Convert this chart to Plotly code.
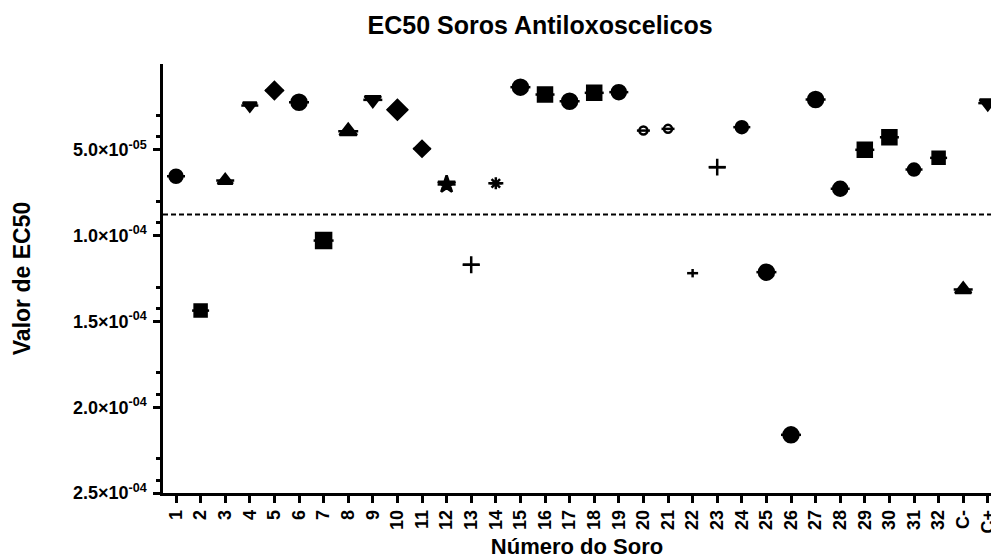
import plotly.graph_objects as go

# EC50 per serum sample (reversed linear axis, 0 at top)
categories = [str(i) for i in range(1, 33)] + ["C-", "C+"]
ec50 = [
    6.54e-5, 1.437e-4, 6.79e-5, 2.42e-5, 1.54e-5, 2.23e-5, 1.029e-4, 3.92e-5,
    2.09e-5, 2.67e-5, 4.94e-5, 7.02e-5, 1.170e-4, 6.95e-5, 1.35e-5, 1.78e-5,
    2.17e-5, 1.68e-5, 1.64e-5, 3.88e-5, 3.78e-5, 1.219e-4, 6.01e-5, 3.68e-5,
    1.213e-4, 2.161e-4, 2.07e-5, 7.27e-5, 5.00e-5, 4.27e-5, 6.15e-5, 5.47e-5,
    1.314e-4, 2.28e-5,
]
cutoff = 8.77e-5

major_ticks = [5e-5, 1e-4, 1.5e-4, 2e-4, 2.5e-4]
major_labels = ["5.0×10<sup>-05</sup>", "1.0×10<sup>-04</sup>", "1.5×10<sup>-04</sup>",
                "2.0×10<sup>-04</sup>", "2.5×10<sup>-04</sup>"]
minor_ticks = [3e-5, 4.25e-5, 8e-5, 9.25e-5, 1.3e-4, 1.425e-4, 1.8e-4, 1.925e-4,
               2.3e-4, 2.425e-4]

# marker symbol and size per sample
symbols = [
    "circle", "square", "triangle-up", "triangle-down", "diamond", "circle",
    "square", "triangle-up", "triangle-down", "diamond", "diamond", "star",
    "cross-thin-open", "asterisk-open", "circle", "square", "circle", "square",
    "circle", "circle-open", "circle-open", "line-ns-open", "cross-thin-open",
    "circle", "circle", "circle", "circle", "circle", "square", "square",
    "circle", "square", "triangle-up", "triangle-down",
]
sizes = [13, 12, 13, 12, 13, 15, 15, 15, 14, 15, 12, 13, 12, 10, 15, 14, 15, 14,
         14, 8, 8, 6, 12, 12, 15, 15, 15, 14, 14, 14, 12, 12, 14, 14]

xpos = list(range(1, len(categories) + 1))
font_family = "Liberation Sans, Arial, sans-serif"

fig = go.Figure()

fig.add_trace(go.Scatter(
    x=xpos, y=ec50, mode="markers", cliponaxis=False, showlegend=False,
    marker=dict(symbol=symbols, size=sizes, color="#000000", opacity=1,
                line=dict(color="#000000", width=2.5)),
))
# short mean bar through each point (line-ew length is 1.4x its size)
fig.add_trace(go.Scatter(
    x=xpos, y=ec50, mode="markers", cliponaxis=False, showlegend=False,
    marker=dict(symbol="line-ew-open", size=[(s + 5) / 1.4 for s in sizes],
                color="#000000", opacity=1, line=dict(color="#000000", width=2.5)),
))

fig.add_shape(type="line", xref="paper", x0=0, x1=1, yref="y", y0=cutoff, y1=cutoff,
              line=dict(color="black", width=2, dash="5px,3px"))

fig.update_layout(
    template="none",
    width=991, height=559,
    margin=dict(l=163, r=0, t=64, b=66),
    paper_bgcolor="white", plot_bgcolor="white",
    font=dict(family=font_family, color="black", size=16),
    title=dict(text="EC50 Soros Antiloxoscelicos", x=0.545, xanchor="center",
               y=0.955, yanchor="middle",
               font=dict(size=25, weight="bold", family=font_family)),
    xaxis=dict(
        range=[0.471, 34.13], tickmode="array", tickvals=xpos, ticktext=categories,
        tickangle=-90, ticks="outside", ticklen=7, tickwidth=2.5, tickcolor="black",
        showline=True, linewidth=2.5, linecolor="black", showgrid=False,
        zeroline=False, tickfont=dict(size=18, weight="bold"),
        ticklabeloverflow="allow",
        title=dict(text="Número do Soro", font=dict(size=22, weight="bold"), standoff=10),
    ),
    yaxis=dict(
        range=[2.5e-4, 0], tickmode="array", tickvals=major_ticks, ticktext=major_labels,
        ticks="outside", ticklen=7, tickwidth=2.5, tickcolor="black",
        showline=True, linewidth=2.5, linecolor="black", showgrid=False,
        zeroline=False, tickfont=dict(size=18, weight="bold"), ticklabelstandoff=3,
        minor=dict(tickmode="array", tickvals=minor_ticks, ticks="outside", ticklen=4,
                   tickwidth=2.5, tickcolor="black", showgrid=False),
        title=dict(text="Valor de EC50", font=dict(size=23, weight="bold"), standoff=36),
    ),
)

fig.write_html("out.html")
